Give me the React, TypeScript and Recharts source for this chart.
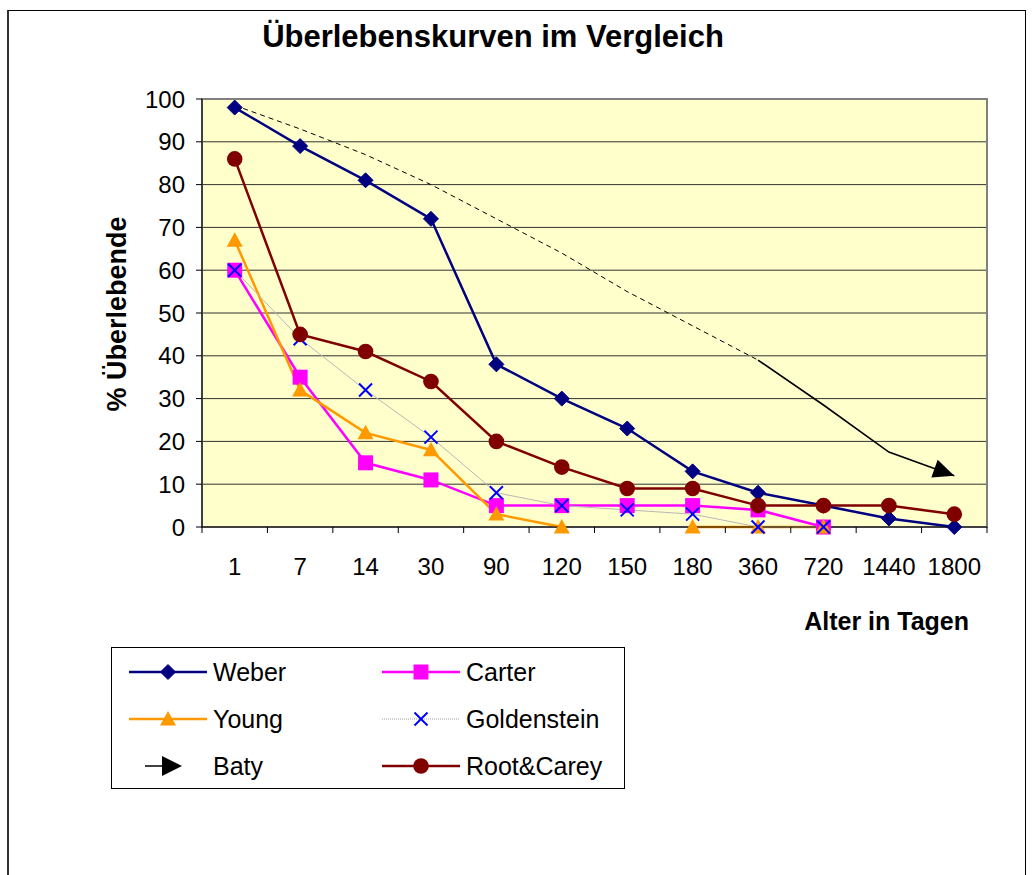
import React from 'react';
import { LineChart, Line, XAxis, YAxis, CartesianGrid, ReferenceArea } from 'recharts';

const categories = ['1', '7', '14', '30', '90', '120', '150', '180', '360', '720', '1440', '1800'];
const weber = [98, 89, 81, 72, 38, 30, 23, 13, 8, 5, 2, 0];
const carter = [60, 35, 15, 11, 5, 5, 5, 5, 4, 0, null, null];
const young = [67, 32, 22, 18, 3, 0, null, 0, 0, 0, null, null];
const goldenstein = [60, 44, 32, 21, 8, 5, 4, 3, 0, 0, null, null];
const rootCarey = [86, 45, 41, 34, 20, 14, 9, 9, 5, 5, 5, 3];
const batyDashed = [98.5, 93, 87, 80, 72, 64, 55, 47, 39, null, null, null];
const batySolid = [null, null, null, null, null, null, null, null, 39, 28.5, 17.5, 12];
const yTicks = [0, 10, 20, 30, 40, 50, 60, 70, 80, 90, 100];

const data = categories.map((c, i) => ({
  x: i,
  label: c,
  weber: weber[i],
  carter: carter[i],
  young: young[i],
  goldenstein: goldenstein[i],
  rootCarey: rootCarey[i],
  batyDashed: batyDashed[i],
  batySolid: batySolid[i],
}));

const boundaryTicks = categories.map((_, i) => i - 0.5).concat([categories.length - 0.5]);
const labelTicks = categories.map((_, i) => i);
const xDomain = [-0.5, categories.length - 0.5];

const FONT = '"Liberation Sans", Arial, Helvetica, sans-serif';

const NAVY = '#000080';
const MAGENTA = '#FF00FF';
const ORANGE = '#FF9900';
const BLUE = '#0000FF';
const MAROON = '#800000';

type MarkerKind = 'diamond' | 'square' | 'triangle' | 'x' | 'circle';

function MarkerShape({ kind, cx, cy, color, s = 1 }: { kind: MarkerKind; cx: number; cy: number; color: string; s?: number }) {
  switch (kind) {
    case 'diamond': {
      const r = 7.5 * s;
      return <polygon points={`${cx},${cy - r} ${cx + r},${cy} ${cx},${cy + r} ${cx - r},${cy}`} fill={color} stroke={color} strokeWidth={1} />;
    }
    case 'square': {
      const r = 7.5 * s;
      return <rect x={cx - r} y={cy - r} width={2 * r} height={2 * r} fill={color} />;
    }
    case 'triangle': {
      const r = 8 * s;
      return <polygon points={`${cx},${cy - r} ${cx + r},${cy + r * 0.8} ${cx - r},${cy + r * 0.8}`} fill={color} />;
    }
    case 'x': {
      const r = 6.5 * s;
      return (
        <g stroke={color} strokeWidth={2}>
          <line x1={cx - r} y1={cy - r} x2={cx + r} y2={cy + r} />
          <line x1={cx - r} y1={cy + r} x2={cx + r} y2={cy - r} />
        </g>
      );
    }
    case 'circle':
    default:
      return <circle cx={cx} cy={cy} r={7.8 * s} fill={color} />;
  }
}

function makeDot(kind: MarkerKind, color: string) {
  return (props: any) => {
    const { cx, cy, index, value } = props;
    if (cx == null || cy == null || value == null || (Array.isArray(value) && value[1] == null)) {
      return <g key={`d-${kind}-${index}`} />;
    }
    return (
      <g key={`d-${kind}-${index}`}>
        <MarkerShape kind={kind} cx={cx} cy={cy} color={color} />
      </g>
    );
  };
}

const arrowDot = (props: any) => {
  const { cx, cy, index } = props;
  if (cx == null || cy == null || index !== categories.length - 1) {
    return <g key={`a-${index}`} />;
  }
  return (
    <polygon
      key={`a-${index}`}
      points="0,0 -21,-9.5 -21,9.5"
      fill="#000"
      transform={`translate(${cx},${cy}) rotate(19.5)`}
    />
  );
};

const legendItems: { name: string; kind: MarkerKind | 'arrow'; color: string; line: string; thin?: boolean }[] = [
  { name: 'Weber', kind: 'diamond', color: NAVY, line: NAVY },
  { name: 'Carter', kind: 'square', color: MAGENTA, line: MAGENTA },
  { name: 'Young', kind: 'triangle', color: ORANGE, line: ORANGE },
  { name: 'Goldenstein', kind: 'x', color: BLUE, line: '#A0A0A0', thin: true },
  { name: 'Baty', kind: 'arrow', color: '#000', line: '#000' },
  { name: 'Root&Carey', kind: 'circle', color: MAROON, line: MAROON },
];

function Legend() {
  const colX = [129, 382];
  const rowY = [672, 719, 766];
  return (
    <g>
      <rect x={111.5} y={647.5} width={513} height={141} fill="#fff" stroke="#000" strokeWidth={1} />
      {legendItems.map((it, i) => {
        const col = i % 2;
        const row = Math.floor(i / 2);
        const x0 = colX[col];
        const y = rowY[row];
        const mid = x0 + 39;
        return (
          <g key={it.name}>
            {it.kind === 'arrow' ? (
              <g>
                <line x1={x0 + 16} y1={y} x2={x0 + 36} y2={y} stroke="#000" strokeWidth={1.5} />
                <polygon points={`${x0 + 53},${y} ${x0 + 33},${y - 10} ${x0 + 33},${y + 10}`} fill="#000" />
              </g>
            ) : (
              <g>
                <line
                  x1={x0}
                  y1={y}
                  x2={x0 + 78}
                  y2={y}
                  stroke={it.line}
                  strokeWidth={it.thin ? 1 : 2.5}
                  strokeDasharray={it.thin ? '1 1' : undefined}
                />
                <MarkerShape kind={it.kind as MarkerKind} cx={mid} cy={y} color={it.color} s={1} />
              </g>
            )}
            <text x={x0 + 84} y={y} dominantBaseline="central" fontSize={25} fontFamily={FONT} fill="#000">
              {it.name}
            </text>
          </g>
        );
      })}
    </g>
  );
}

export default function App() {
  return (
    <div style={{ position: 'absolute', left: 0, top: 0, width: 1036, height: 875, background: '#fff', overflow: 'hidden', fontFamily: FONT }}>
      <div
        style={{
          position: 'absolute',
          left: 7,
          top: 10,
          width: 1019,
          height: 870,
          borderTop: '1px solid #000',
          borderLeft: '2px solid #333',
          borderRight: '1px solid #000',
          boxSizing: 'border-box',
        }}
      />
      <div style={{ position: 'absolute', left: 0, top: 0 }}>
        <LineChart
          width={1036}
          height={875}
          data={data}
          margin={{ top: 99, right: 49, left: 92, bottom: 300 }}
        >
          <CartesianGrid xAxisId="a" horizontal vertical={false} stroke="#333" fill="#FFFFCC" fillOpacity={1} />
          <ReferenceArea xAxisId="a" x1={xDomain[0]} x2={xDomain[1]} y1={0} y2={100} fill="none" stroke="#808080" strokeWidth={2} />
          <XAxis
            xAxisId="a"
            dataKey="x"
            type="number"
            domain={xDomain}
            ticks={boundaryTicks}
            tickFormatter={() => ''}
            tickSize={6}
            axisLine={{ stroke: '#000' }}
            tickLine={{ stroke: '#000' }}
            height={8}
            interval={0}
          />
          <XAxis
            xAxisId="b"
            dataKey="x"
            type="number"
            domain={xDomain}
            ticks={labelTicks}
            tickFormatter={(v: number) => categories[v] ?? ''}
            axisLine={false}
            tickLine={false}
            tickSize={0}
            tickMargin={23}
            height={40}
            interval={0}
            tick={{ fill: '#000', fontSize: 24, fontFamily: FONT }}
          />
          <YAxis
            type="number"
            domain={[0, 100]}
            ticks={yTicks}
            interval={0}
            width={110}
            tickSize={6}
            tickMargin={11}
            axisLine={{ stroke: '#000' }}
            tickLine={{ stroke: '#000' }}
            tick={{ fill: '#000', fontSize: 24, fontFamily: FONT }}
          />
          <Line xAxisId="a" dataKey="weber" stroke={NAVY} strokeWidth={2.5} dot={makeDot('diamond', NAVY)} activeDot={false} isAnimationActive={false} />
          <Line xAxisId="a" dataKey="carter" stroke={MAGENTA} strokeWidth={2.5} dot={makeDot('square', MAGENTA)} activeDot={false} isAnimationActive={false} />
          <Line xAxisId="a" dataKey="young" stroke={ORANGE} strokeWidth={2.5} dot={makeDot('triangle', ORANGE)} activeDot={false} isAnimationActive={false} />
          <Line xAxisId="a" dataKey="goldenstein" stroke="#B8B8B8" strokeWidth={1} dot={makeDot('x', BLUE)} activeDot={false} isAnimationActive={false} />
          <Line xAxisId="a" dataKey="rootCarey" stroke={MAROON} strokeWidth={2.5} dot={makeDot('circle', MAROON)} activeDot={false} isAnimationActive={false} />
          <Line xAxisId="a" dataKey="batyDashed" stroke="#000" strokeWidth={1} strokeDasharray="5 4" dot={false} activeDot={false} isAnimationActive={false} />
          <Line xAxisId="a" dataKey="batySolid" stroke="#000" strokeWidth={1.6} dot={arrowDot} activeDot={false} isAnimationActive={false} />
        </LineChart>
      </div>
      <svg width={1036} height={875} style={{ position: 'absolute', left: 0, top: 0, pointerEvents: 'none' }}>
        <text x={493} y={47} textAnchor="middle" fontSize={31} fontWeight="bold" fontFamily={FONT} fill="#000">
          Überlebenskurven im Vergleich
        </text>
        <text
          transform="translate(117,314) rotate(-90)"
          textAnchor="middle"
          dominantBaseline="central"
          fontSize={27}
          fontWeight="bold"
          fontFamily={FONT}
          fill="#000"
        >
          % Überlebende
        </text>
        <text x={969} y={630} textAnchor="end" fontSize={25} fontWeight="bold" fontFamily={FONT} fill="#000">
          Alter in Tagen
        </text>
        <Legend />
      </svg>
    </div>
  );
}
